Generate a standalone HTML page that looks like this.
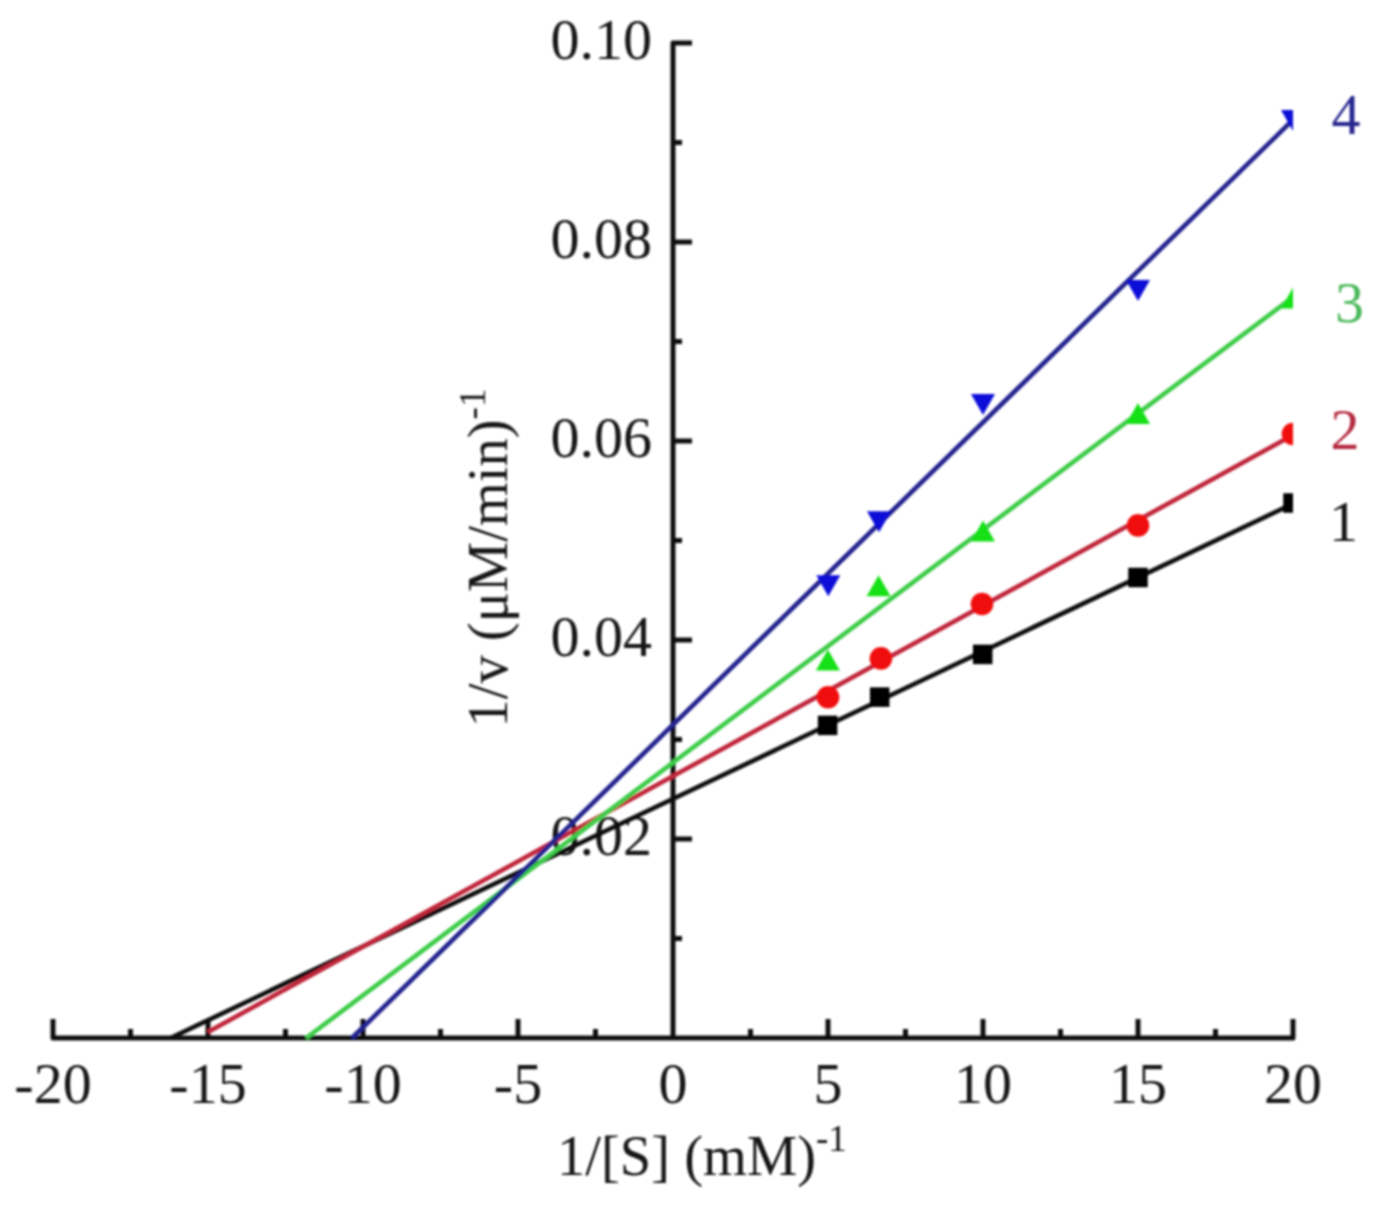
<!DOCTYPE html>
<html>
<head>
<meta charset="utf-8">
<style>
html,body{margin:0;padding:0;background:#fff;}
body{width:1380px;height:1207px;overflow:hidden;}
svg{display:block;}
text{font-family:"Liberation Serif",serif;}
</style>
</head>
<body>
<svg width="1380" height="1207" viewBox="0 0 1380 1207">
<defs>
<filter id="bl" filterUnits="userSpaceOnUse" x="0" y="0" width="1380" height="1207"><feGaussianBlur stdDeviation="0.8"/></filter>
<clipPath id="pc"><rect x="40" y="0" width="1253" height="1040"/></clipPath>
</defs>
<rect width="1380" height="1207" fill="#fff"/>
<g filter="url(#bl)">

<!-- y tick labels -->
<g font-size="58" fill="#141414" text-anchor="end">
<text x="652" y="854.6">0.02</text>
<text x="652" y="655.6">0.04</text>
<text x="652" y="456.6">0.06</text>
<text x="652" y="257.6">0.08</text>
<text x="652" y="58.6">0.10</text>
</g>

<!-- x tick labels -->
<g font-size="58" fill="#141414" text-anchor="middle">
<text x="53" y="1103">-20</text>
<text x="208" y="1103">-15</text>
<text x="363" y="1103">-10</text>
<text x="518" y="1103">-5</text>
<text x="673" y="1103">0</text>
<text x="828" y="1103">5</text>
<text x="983" y="1103">10</text>
<text x="1138" y="1103">15</text>
<text x="1293" y="1103">20</text>
</g>

<!-- axis titles -->
<text x="557" y="1174.5" font-size="56.5" fill="#141414">1/[S] (mM)<tspan font-size="37" dx="0" dy="-23.5">-1</tspan></text>
<text transform="translate(506.5,727.5) rotate(-90)" font-size="56.5" fill="#141414">1/v (μM/min)<tspan font-size="37" dx="0" dy="-22">-1</tspan></text>

<!-- axes -->
<g stroke="#111" stroke-width="5" fill="none" stroke-linecap="butt" stroke-linejoin="round">
<path d="M692,43 H673 V1038"/>
<path d="M53,1019 V1038 H1293 V1019"/>
<!-- y ticks major -->
<path d="M673,242 H692 M673,441 H692 M673,640 H692 M673,839 H692"/>
<!-- y ticks minor -->
<path d="M673,142.5 H682 M673,341.5 H682 M673,540.5 H682 M673,739.5 H682 M673,938.5 H682"/>
<!-- x ticks major -->
<path d="M208,1038 V1019 M363,1038 V1019 M518,1038 V1019 M828,1038 V1019 M983,1038 V1019 M1138,1038 V1019"/>
<!-- x ticks minor -->
<path d="M130.5,1038 V1029 M285.5,1038 V1029 M440.5,1038 V1029 M595.5,1038 V1029 M750.5,1038 V1029 M905.5,1038 V1029 M1060.5,1038 V1029 M1215.5,1038 V1029"/>
</g>

<g clip-path="url(#pc)">
<!-- fit lines -->
<g stroke-width="4.6" fill="none">
<line x1="170.6" y1="1038" x2="1293" y2="503.7" stroke="#111"/>
<line x1="208" y1="1032" x2="1293" y2="434.9" stroke="#c0283a"/>
<line x1="306.2" y1="1038" x2="1293" y2="297" stroke="#3ccc4a"/>
<line x1="352" y1="1038" x2="1293" y2="119.8" stroke="#20208e"/>
</g>
<g fill="#000"><rect x="817.85" y="715.65" width="19.5" height="19.5"/><rect x="869.95" y="687.35" width="19.5" height="19.5"/><rect x="972.95" y="644.65" width="19.5" height="19.5"/><rect x="1128.25" y="567.75" width="19.5" height="19.5"/><rect x="1283.25" y="493.25" width="19.5" height="19.5"/></g>
<g fill="#f01010"><circle cx="828" cy="697.2" r="11.3"/><circle cx="880.9" cy="658.4" r="11.3"/><circle cx="982" cy="604" r="11.3"/><circle cx="1138" cy="525.4" r="11.3"/><circle cx="1293" cy="434" r="11.3"/></g>
<g fill="#18e018"><path d="M827.9,649.4 L839.9,670.4 L815.9,670.4Z"/><path d="M878.6,575.2 L890.6,596.2 L866.6,596.2Z"/><path d="M983,520.5 L995.0,541.5 L971.0,541.5Z"/><path d="M1138,403.0 L1150.0,424.0 L1126.0,424.0Z"/><path d="M1293,287.5 L1305.0,308.5 L1281.0,308.5Z"/></g>
<g fill="#0a0ad8"><path d="M828.3,596.2 L840.3,575.2 L816.3,575.2Z"/><path d="M879,532.3 L891.0,511.3 L867.0,511.3Z"/><path d="M983,415.1 L995.0,394.1 L971.0,394.1Z"/><path d="M1138,301.0 L1150.0,280.0 L1126.0,280.0Z"/><path d="M1293,131.0 L1305.0,110.0 L1281.0,110.0Z"/></g>
</g>

<!-- series labels -->
<g font-size="58">
<text x="1331.5" y="134" fill="#26268f">4</text>
<text x="1335" y="322" fill="#4cb85a">3</text>
<text x="1330.5" y="449" fill="#b42a40">2</text>
<text x="1329" y="540.5" fill="#141414">1</text>
</g>
</g>
</svg>
</body>
</html>
